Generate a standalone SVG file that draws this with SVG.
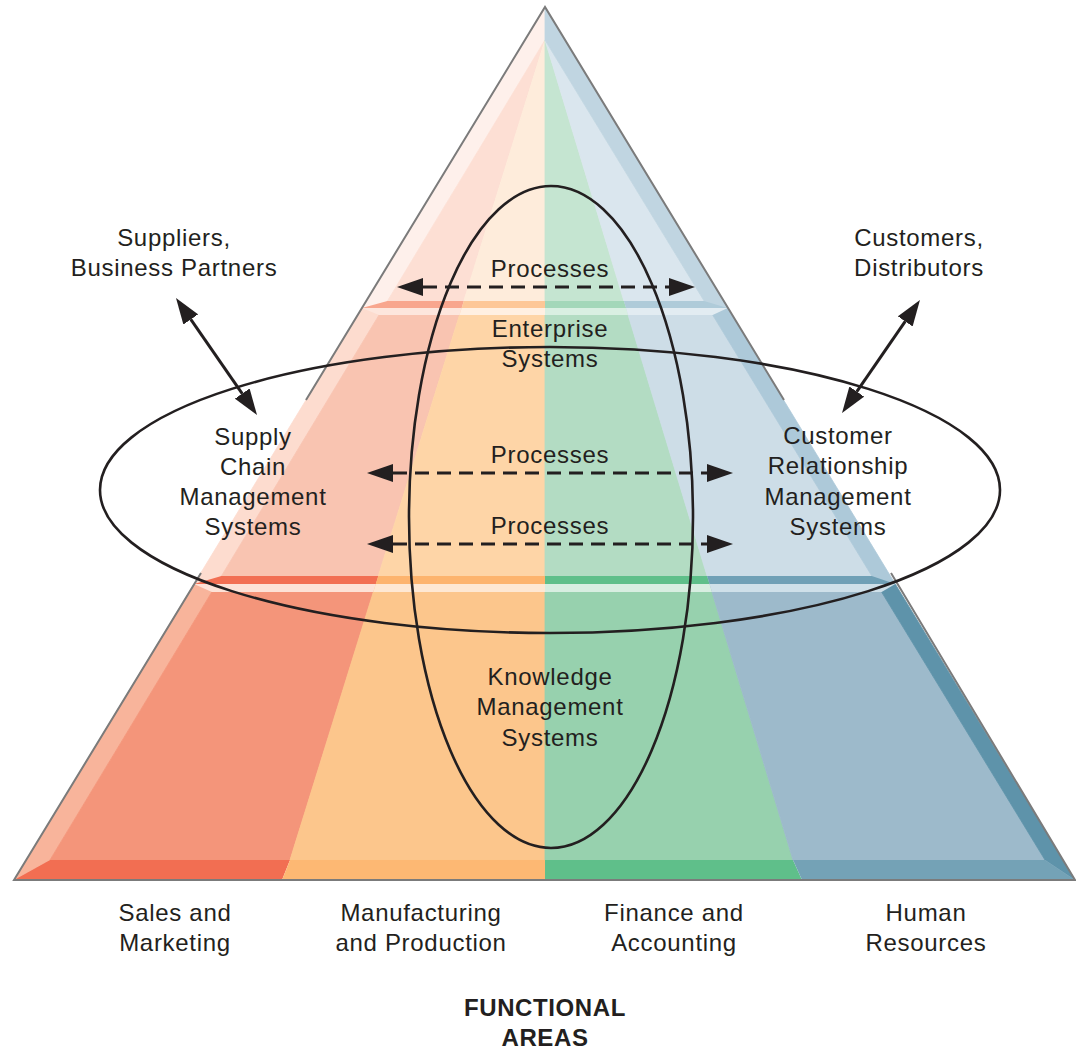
<svg xmlns="http://www.w3.org/2000/svg" xmlns:xlink="http://www.w3.org/1999/xlink" width="1076" height="1051" viewBox="0 0 1076 1051">
<style>
.t{font-family:"Liberation Sans",Arial,Helvetica,sans-serif;font-size:24px;fill:#231f20;text-anchor:middle;letter-spacing:0.7px}
.tb{font-family:"Liberation Sans",Arial,Helvetica,sans-serif;font-size:24px;font-weight:bold;fill:#231f20;text-anchor:middle;letter-spacing:0.6px}
.ell{fill:none;stroke:#231f20;stroke-width:2.6}
.dash{fill:none;stroke:#231f20;stroke-width:3;stroke-dasharray:14 8}
.solid{fill:none;stroke:#231f20;stroke-width:3}
.edge{fill:none;stroke:#7b7b7b;stroke-width:2}
</style>
<defs>
<polygon id="pLB" points="545,7 545,40 50,860 14,880"/>
<polygon id="pR" points="545,40 50,860 290,860"/>
<polygon id="pO" points="545,40 290,860 545,860"/>
<polygon id="pG" points="545,40 545,860 793,860"/>
<polygon id="pB" points="545,40 793,860 1045,860"/>
<polygon id="pRB" points="545,7 545,40 1045,860 1075,880"/>
<clipPath id="cTop"><rect x="0" y="0" width="1076" height="308"/></clipPath>
<clipPath id="cMid"><rect x="0" y="308" width="1076" height="276"/></clipPath>
<clipPath id="cBot"><rect x="0" y="584" width="1076" height="296"/></clipPath>
<marker id="ah" viewBox="0 0 26 18" refX="0" refY="9" markerWidth="26" markerHeight="18" orient="auto-start-reverse" markerUnits="userSpaceOnUse">
<path d="M0,0 L26,9 L0,18 Z" fill="#231f20"/>
</marker>
</defs>
<rect width="1076" height="1051" fill="#ffffff"/>

<g id="pyramid">
<g id="tier-top" clip-path="url(#cTop)">
<use xlink:href="#pLB" fill="#fef0eb" stroke="#fef0eb" stroke-width="0.8"/>
<use xlink:href="#pR" fill="#fddfd4" stroke="#fddfd4" stroke-width="0.8"/>
<use xlink:href="#pO" fill="#feecdb" stroke="#feecdb" stroke-width="0.8"/>
<use xlink:href="#pG" fill="#c5e5d1" stroke="#c5e5d1" stroke-width="0.8"/>
<use xlink:href="#pB" fill="#dae6ee" stroke="#dae6ee" stroke-width="0.8"/>
<use xlink:href="#pRB" fill="#c0d5e1" stroke="#c0d5e1" stroke-width="0.8"/>
</g>
<g id="tier-mid" clip-path="url(#cMid)">
<use xlink:href="#pLB" fill="#fddccf" stroke="#fddccf" stroke-width="0.8"/>
<use xlink:href="#pR" fill="#f9c4b1" stroke="#f9c4b1" stroke-width="0.8"/>
<use xlink:href="#pO" fill="#fed5a7" stroke="#fed5a7" stroke-width="0.8"/>
<use xlink:href="#pG" fill="#b3dcc3" stroke="#b3dcc3" stroke-width="0.8"/>
<use xlink:href="#pB" fill="#cddde7" stroke="#cddde7" stroke-width="0.8"/>
<use xlink:href="#pRB" fill="#adc9d9" stroke="#adc9d9" stroke-width="0.8"/>
</g>
<g id="tier-bottom" clip-path="url(#cBot)">
<use xlink:href="#pLB" fill="#f8b49b" stroke="#f8b49b" stroke-width="0.8"/>
<use xlink:href="#pR" fill="#f4957a" stroke="#f4957a" stroke-width="0.8"/>
<use xlink:href="#pO" fill="#fcc68c" stroke="#fcc68c" stroke-width="0.8"/>
<use xlink:href="#pG" fill="#97d1ae" stroke="#97d1ae" stroke-width="0.8"/>
<use xlink:href="#pB" fill="#9dbacb" stroke="#9dbacb" stroke-width="0.8"/>
<use xlink:href="#pRB" fill="#5e93aa" stroke="#5e93aa" stroke-width="0.8"/>
</g>
<g id="band-top">
<polygon points="387.4,301 463.8,301 461.7,308 361.9,308" fill="#f8a68e"/>
<polygon points="463.8,301 545,301 545,308 461.7,308" fill="#fdc797"/>
<polygon points="545,301 623.9,301 626.1,308 545,308" fill="#a3d7b9"/>
<polygon points="623.9,301 704.1,301 727.7,308 626.1,308" fill="#afcbd9"/>
<polygon points="361.9,308 461.7,308 459.5,315 379,315" fill="#fde6dd"/>
<polygon points="461.7,308 545,308 545,315 459.5,315" fill="#fff0e2"/>
<polygon points="545,308 626.1,308 628.2,315 545,315" fill="#d9efe2"/>
<polygon points="626.1,308 727.7,308 712.7,315 628.2,315" fill="#e2ecf2"/>
</g>
<g id="band-mid">
<polygon points="221.4,576 378.3,576 375.8,584 194,584" fill="#f26f53"/>
<polygon points="378.3,576 545,576 545,584 375.8,584" fill="#fdb46e"/>
<polygon points="545,576 707.1,576 709.5,584 545,584" fill="#5fbf8a"/>
<polygon points="707.1,576 871.8,576 895.3,584 709.5,584" fill="#70a0b6"/>
<polygon points="194,584 375.8,584 373.3,592 211.8,592" fill="#fde2d7"/>
<polygon points="375.8,584 545,584 545,592 373.3,592" fill="#fee8d3"/>
<polygon points="545,584 709.5,584 712,592 545,592" fill="#d8eee1"/>
<polygon points="709.5,584 895.3,584 881.6,592 712,592" fill="#cfe0e9"/>
</g>
<g id="base-strip">
<polygon points="14,880 50,860 290,860 282,880" fill="#f26e52"/>
<polygon points="282,880 290,860 545,860 545,880" fill="#fdb873"/>
<polygon points="545,880 545,860 793,860 802,880" fill="#5fbf8a"/>
<polygon points="802,880 793,860 1045,860 1075,880" fill="#74a2b6"/>
</g>
<path class="edge" d="M306,400 L545,7 L784,400 M201,573 L14,880 L1075,880 L891,573"/>
</g>

<g id="node-ellipse-enterprise"><ellipse class="ell" cx="551" cy="517" rx="142" ry="331"/></g>
<g id="node-ellipse-crm-scm"><ellipse class="ell" cx="550" cy="490" rx="450" ry="143"/></g>

<g id="connectors">
<line class="dash" x1="423" y1="287" x2="669" y2="287" marker-start="url(#ah)" marker-end="url(#ah)"/>
<line class="dash" x1="393" y1="473" x2="707" y2="473" marker-start="url(#ah)" marker-end="url(#ah)"/>
<line class="dash" x1="393" y1="544" x2="707" y2="544" marker-start="url(#ah)" marker-end="url(#ah)"/>
<line class="solid" x1="190.8" y1="319.4" x2="242.2" y2="393.6" marker-start="url(#ah)" marker-end="url(#ah)"/>
<line class="solid" x1="905.2" y1="321.4" x2="856.8" y2="391.6" marker-start="url(#ah)" marker-end="url(#ah)"/>
</g>

<g id="node-suppliers"><text class="t" x="174" y="246">Suppliers,</text><text class="t" x="174" y="276">Business Partners</text></g>
<g id="node-customers"><text class="t" x="919" y="246">Customers,</text><text class="t" x="919" y="276">Distributors</text></g>
<g id="node-processes-top"><text class="t" x="550" y="277">Processes</text></g>
<g id="node-enterprise"><text class="t" x="550" y="337">Enterprise</text><text class="t" x="550" y="367">Systems</text></g>
<g id="node-scm"><text class="t" x="253" y="445">Supply</text><text class="t" x="253" y="475">Chain</text><text class="t" x="253" y="505">Management</text><text class="t" x="253" y="535">Systems</text></g>
<g id="node-crm"><text class="t" x="838" y="444">Customer</text><text class="t" x="838" y="474">Relationship</text><text class="t" x="838" y="505">Management</text><text class="t" x="838" y="535">Systems</text></g>
<g id="node-processes-mid1"><text class="t" x="550" y="463">Processes</text></g>
<g id="node-processes-mid2"><text class="t" x="550" y="534">Processes</text></g>
<g id="node-kms"><text class="t" x="550" y="685">Knowledge</text><text class="t" x="550" y="715">Management</text><text class="t" x="550" y="746">Systems</text></g>
<g id="node-sales"><text class="t" x="175" y="921">Sales and</text><text class="t" x="175" y="951">Marketing</text></g>
<g id="node-manufacturing"><text class="t" x="421" y="921">Manufacturing</text><text class="t" x="421" y="951">and Production</text></g>
<g id="node-finance"><text class="t" x="674" y="921">Finance and</text><text class="t" x="674" y="951">Accounting</text></g>
<g id="node-hr"><text class="t" x="926" y="921">Human</text><text class="t" x="926" y="951">Resources</text></g>
<g id="node-functional"><text class="tb" x="545" y="1016">FUNCTIONAL</text><text class="tb" x="545" y="1046">AREAS</text></g>
</svg>
